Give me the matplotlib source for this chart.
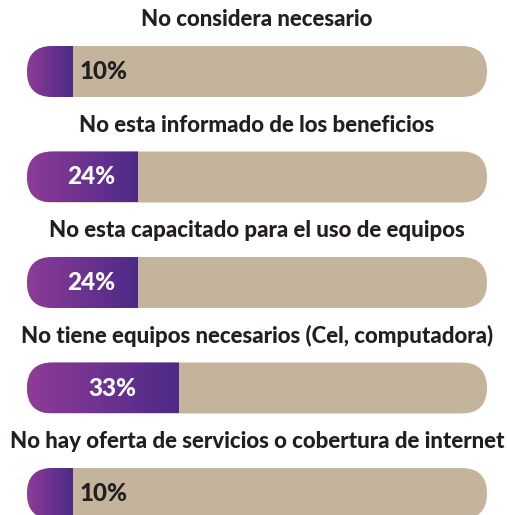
import numpy as np
import matplotlib
matplotlib.use("Agg")
from matplotlib import pyplot as plt
from matplotlib.patches import FancyBboxPatch
from matplotlib.colors import LinearSegmentedColormap

# Motivos y porcentajes
motivos = ["No considera necesario",
           "No esta informado de los beneficios",
           "No esta capacitado para el uso de equipos",
           "No tiene equipos necesarios (Cel, computadora)",
           "No hay oferta de servicios o cobertura de internet"]
porcentajes = [10, 24, 24, 33, 10]
etiquetas = ["10%", "24%", "24%", "33%", "10%"]

W, H = 507, 515
PX = 4.6                     # pixeles por unidad (100% = 460 px)
alto = 51 / PX               # alto de la barra
paso = 105.5 / PX            # distancia entre filas
y0 = 71.5 / PX               # centro de la primera barra

beige = "#c3b49b"
texto = "#231f20"
degradado = LinearSegmentedColormap.from_list("morado", ["#8e3b98", "#4d2a87"])

plt.rcParams['font.family'] = ['Lato', 'DejaVu Sans']
fig = plt.figure(figsize=(W / 100, H / 100), dpi=100)
ax = fig.add_axes([27 / W, 0, 460 / W, 1])
ax.set_xlim(0, 100)
ax.set_ylim(H / PX, 0)
ax.axis("off")

grad = np.linspace(0, 1, 256).reshape(1, -1)
for i, (motivo, valor, etiq) in enumerate(zip(motivos, porcentajes, etiquetas)):
    yc = y0 + i * paso
    pista = FancyBboxPatch((0, yc - alto / 2), 100, alto,
                           boxstyle=f"round,pad=0,rounding_size={alto / 2}",
                           facecolor=beige, edgecolor="none")
    ax.add_patch(pista)
    im = ax.imshow(grad, cmap=degradado, aspect="auto",
                   extent=(0, valor, yc + alto / 2, yc - alto / 2), zorder=2)
    im.set_clip_path(pista)
    ax.text(50, yc - 52 / PX, motivo, ha="center", va="center",
            fontsize=16, fontweight="black", color=texto, clip_on=False)
    if valor >= 20:
        ax.text(valor / 2 + 2, yc, etiq, ha="center", va="center",
                fontsize=17.5, fontweight="black", color="white", zorder=3)
    else:
        ax.text(valor + 1.5, yc, etiq, ha="left", va="center",
                fontsize=17.5, fontweight="black", color=texto, zorder=3)

ax.set_xlim(0, 100)
ax.set_ylim(H / PX, 0)
fig.savefig("out.png", dpi=100, facecolor="white")
